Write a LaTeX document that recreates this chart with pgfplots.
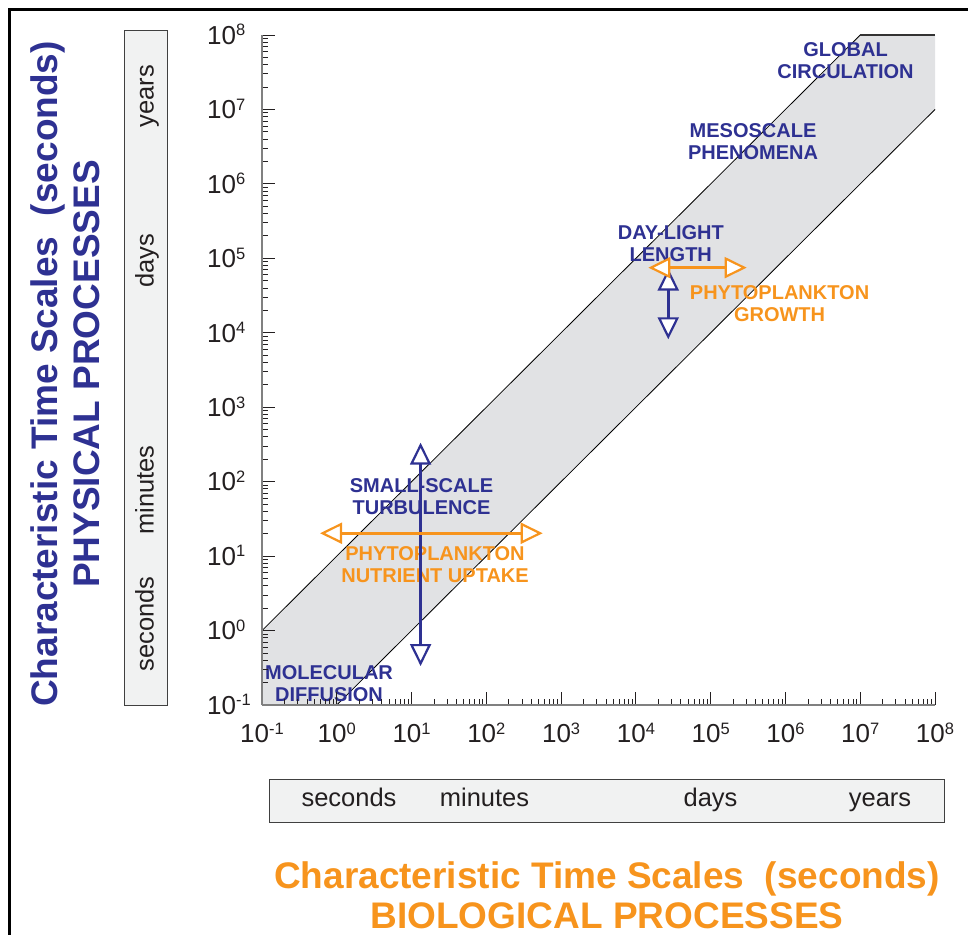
\documentclass[border=0pt]{standalone}
\usepackage{fontspec}
\setmainfont{Liberation Sans}
\usepackage{pgfplots}
\pgfplotsset{compat=1.18}
\usetikzlibrary{arrows.meta}

\definecolor{pblue}{RGB}{46,49,146}
\definecolor{porange}{RGB}{247,148,29}
\definecolor{bandgray}{RGB}{225,226,228}
\definecolor{boxgray}{RGB}{241,242,242}
\definecolor{axisgray}{RGB}{128,128,128}
\definecolor{ink}{RGB}{35,31,32}

% power-of-ten tick label set in the text font
\newcommand\tl[1]{\mbox{10\raisebox{8.5bp}{\fontsize{16.5bp}{16.5bp}\selectfont #1}}}

\tikzset{
  tip/.style={Triangle[fill=white,length=22bp,width=21bp,line width=2.2bp]},
  lab/.style={font=\fontsize{20bp}{22.5bp}\selectfont\bfseries, align=center, inner sep=0pt},
  dbl/.style={line width=2.6bp, arrows={Triangle[fill=white,length=22bp,width=21bp,line width=2.2bp]-Triangle[fill=white,length=22bp,width=21bp,line width=2.2bp]}},
}

\begin{document}
\begin{tikzpicture}
\begin{scope}[x=1bp,y=1bp]
\useasboundingbox (0,0) rectangle (968,-935);

% frame
\draw[line width=3bp] (9,-935) -- (9,-9) -- (968,-9);

% time-unit strips
\draw[fill=boxgray, draw=black!75, line width=0.9bp] (124,-30) rectangle (167,-705);
\draw[fill=boxgray, draw=black!75, line width=0.9bp] (269,-779) rectangle (944,-822);
\begin{scope}[font=\fontsize{25.5bp}{30bp}\selectfont, text=ink]
  \node[rotate=90, anchor=base] at (153.5,-96)  {years};
  \node[rotate=90, anchor=base] at (153.5,-261) {days};
  \node[rotate=90, anchor=base] at (153.5,-490) {minutes};
  \node[rotate=90, anchor=base] at (153.5,-624) {seconds};
  \node[anchor=base] at (349,-806) {seconds};
  \node[anchor=base] at (484.5,-806) {minutes};
  \node[anchor=base] at (710.5,-806) {days};
  \node[anchor=base] at (880,-806) {years};
\end{scope}

% axis titles
\begin{scope}[font=\fontsize{37bp}{44bp}\selectfont\bfseries]
  \node[rotate=90, anchor=base, text=pblue] at (57,-374) {Characteristic Time Scales~~(seconds)};
  \node[rotate=90, anchor=base, text=pblue] at (99,-374) {PHYSICAL PROCESSES};
  \node[anchor=base, text=porange] at (607,-888) {Characteristic Time Scales~~(seconds)};
  \node[anchor=base, text=porange] at (607,-928) {BIOLOGICAL PROCESSES};
\end{scope}
\end{scope}

\begin{axis}[
  at={(262bp,-705bp)}, anchor=south west,
  scale only axis, width=673bp, height=670bp,
  xmode=log, ymode=log,
  xmin=0.1, xmax=1e8, ymin=0.1, ymax=1e8,
  axis x line*=bottom, axis y line*=left,
  axis line style={axisgray, line width=1.8bp},
  tick align=inside,
  major tick length=13.5bp, minor tick length=6.5bp,
  tick style={ink, line width=0.9bp},
  xtick={1e-1,1e0,1e1,1e2,1e3,1e4,1e5,1e6,1e7,1e8},
  ytick={1e-1,1e0,1e1,1e2,1e3,1e4,1e5,1e6,1e7,1e8},
  xticklabels={\tl{-1},\tl{0},\tl{1},\tl{2},\tl{3},\tl{4},\tl{5},\tl{6},\tl{7},\tl{8}},
  yticklabels={\tl{-1},\tl{0},\tl{1},\tl{2},\tl{3},\tl{4},\tl{5},\tl{6},\tl{7},\tl{8}},
  minor xtick={0.2,0.3,0.4,0.5,0.6,0.7,0.8,0.9,2,3,4,5,6,7,8,9,
    20,30,40,50,60,70,80,90,200,300,400,500,600,700,800,900,
    2000,3000,4000,5000,6000,7000,8000,9000,
    20000,30000,40000,50000,60000,70000,80000,90000,
    200000,300000,400000,500000,600000,700000,800000,900000,
    2000000,3000000,4000000,5000000,6000000,7000000,8000000,9000000,
    20000000,30000000,40000000,50000000,60000000,70000000,80000000,90000000},
  minor ytick={0.2,0.3,0.4,0.5,0.6,0.7,0.8,0.9,2,3,4,5,6,7,8,9,
    20,30,40,50,60,70,80,90,200,300,400,500,600,700,800,900,
    2000,3000,4000,5000,6000,7000,8000,9000,
    20000,30000,40000,50000,60000,70000,80000,90000,
    200000,300000,400000,500000,600000,700000,800000,900000,
    2000000,3000000,4000000,5000000,6000000,7000000,8000000,9000000,
    20000000,30000000,40000000,50000000,60000000,70000000,80000000,90000000},
  ticklabel style={font=\fontsize{26bp}{30bp}\selectfont, text=ink, inner sep=0pt},
  xticklabel style={anchor=base, yshift=-37.5bp},
  yticklabel style={anchor=base west, xshift=-55bp, yshift=-9.3bp},
  axis on top, clip=false,
]
% band of time scales, one decade either side of the diagonal
\addplot[fill=bandgray, draw=none] coordinates
  {(0.1,0.1) (0.1,1) (1e7,1e8) (1e8,1e8) (1e8,1e7) (1,0.1)} -- cycle;
\addplot[black, line width=0.8bp] coordinates {(0.1,1) (1e7,1e8)};
\addplot[black, line width=0.8bp] coordinates {(1,0.1) (1e8,1e7)};
\addplot[black!80, line width=2bp] coordinates {(1e7,1e8) (1e8,1e8)};

% process labels
\node[lab, text=pblue]   at (rel axis cs:0.867,0.962)  {GLOBAL\\CIRCULATION};
\node[lab, text=pblue]   at (rel axis cs:0.7296,0.841) {MESOSCALE\\PHENOMENA};
\node[lab, text=pblue]   at (rel axis cs:0.6074,0.6884) {DAY-LIGHT\\LENGTH};
\node[lab, text=porange] at (rel axis cs:0.769,0.5993) {PHYTOPLANKTON\\GROWTH};
\node[lab, text=pblue]   at (rel axis cs:0.237,0.3112) {SMALL-SCALE\\TURBULENCE};
\node[lab, text=porange] at (rel axis cs:0.2571,0.2097) {PHYTOPLANKTON\\NUTRIENT UPTAKE};
\node[lab, text=pblue]   at (rel axis cs:0.0996,0.0316) {MOLECULAR\\DIFFUSION};

% ranges
\addplot[pblue, dbl] coordinates {(13.2,0.334) (13.2,334)};
\addplot[porange, dbl] coordinates {(0.597,20.3) (567,20.3)};
\addplot[pblue, dbl] coordinates {(2.71e4,8.18e3) (2.71e4,7.3e4)};
\addplot[porange, dbl] coordinates {(1.47e4,7.5e4) (3.03e5,7.5e4)};
\end{axis}
\end{tikzpicture}
\end{document}
